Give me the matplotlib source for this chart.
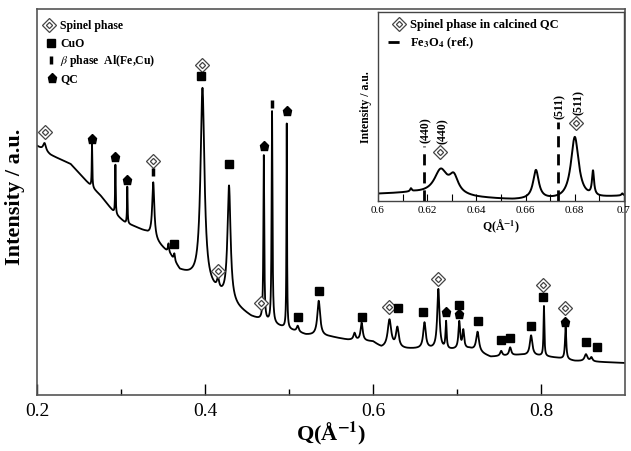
import numpy as np
import matplotlib
matplotlib.use("Agg")
import matplotlib.pyplot as plt

plt.rcParams['font.family'] = ['Liberation Serif', 'DejaVu Serif']
plt.rcParams['mathtext.fontset'] = 'stix'

# ---- main pattern: baseline knots and peaks ----
bg_q = [0.200, 0.216, 0.240, 0.264, 0.276, 0.293, 0.305, 0.317, 0.329, 0.335,
        0.359, 0.370, 0.384, 0.400, 0.420, 0.440, 0.455, 0.468, 0.490, 0.505,
        0.520, 0.550, 0.570, 0.600, 0.610, 0.640, 0.660, 0.690, 0.715, 0.740,
        0.775, 0.800, 0.820, 0.840, 0.870, 0.900]
bg_i = [249, 240, 231, 209, 199, 181, 172, 168, 163, 159,
        139, 124, 118, 110, 98, 86, 78, 74, 68, 64,
        60, 58, 55, 53, 47, 46, 46, 45, 46, 38,
        40, 39, 37, 34, 33, 32]

peak_q = [0.209, 0.2655, 0.2933, 0.3075, 0.3384, 0.3565, 0.3635, 0.397, 0.4155,
          0.4286, 0.4700, 0.4798, 0.4973, 0.5104, 0.5354, 0.578, 0.5865, 0.6196,
          0.6290, 0.6613, 0.6778, 0.6870, 0.7027, 0.7075, 0.7245, 0.7526, 0.7633,
          0.7882, 0.8035, 0.8293, 0.8535, 0.8600]
peak_h = [8, 43, 50, 37, 56, 9, 7, 195, 10,
          115, 165, 212, 205, 6, 35, 7, 18, 28,
          20, 26, 60, 27, 27, 18, 20, 5, 8,
          20, 50, 32, 7, 4]
peak_w = [0.002, 0.0004, 0.0004, 0.0004, 0.0015, 0.0008, 0.0008, 0.0028, 0.0015,
          0.0022, 0.0006, 0.0006, 0.0004, 0.0015, 0.002, 0.0015, 0.0015, 0.0025,
          0.002, 0.0018, 0.0016, 0.0008, 0.0012, 0.0012, 0.002, 0.0015, 0.0015,
          0.0018, 0.0006, 0.0009, 0.002, 0.0015]

# phase markers (position, height)
spinel_q = [0.209, 0.3384, 0.3967, 0.4158, 0.4666, 0.6196, 0.6778, 0.8023, 0.8285]
spinel_i = [263, 234, 330, 124, 92, 88, 116, 110, 87]
cuo_q = [0.3635, 0.3955, 0.4286, 0.5104, 0.5354, 0.5865, 0.6302, 0.6601, 0.7028,
         0.7253, 0.7526, 0.7633, 0.7882, 0.8025, 0.8535, 0.8665]
cuo_i = [151, 319, 231, 78, 104, 78, 87, 83, 90, 74, 55, 57, 69, 98, 53, 48]
qc_q = [0.266, 0.2933, 0.3075, 0.470, 0.4973, 0.6873, 0.7028, 0.8285]
qc_i = [256, 238, 215, 249, 284, 83, 81, 73]
beta_q = [0.3384, 0.4798]
beta_i = [223, 291]

main_ticks = [0.2, 0.4, 0.6, 0.8]
main_minor = [0.3, 0.5, 0.7]

# ---- inset: spinel phase in calcined QC ----
in_bg_q = [0.600, 0.615, 0.620, 0.640, 0.655, 0.675, 0.690, 0.700]
in_bg_i = [7, 8, 7, 3, 1, 1, 3, 5]
in_peak_q = [0.6134, 0.6255, 0.6308, 0.6642, 0.6800, 0.6874, 0.6993]
in_peak_h = [3, 24, 17, 29, 62, 24, 2]
in_peak_w = [0.0004, 0.0032, 0.0022, 0.0014, 0.0019, 0.0005, 0.0004]
in_spinel_q = [0.6252, 0.6805]
in_spinel_i = [49, 78]
ref_q = [0.6187, 0.6732]
ref_top = [55, 79]
hkl_labels = ['(440)', '(511)']
in_ticks = [0.6, 0.62, 0.64, 0.66, 0.68, 0.7]
in_tick_labels = ['0.6', '0.62', '0.64', '0.66', '0.68', '0.7']
in_minor = [0.61, 0.63, 0.65, 0.67, 0.69]


def pattern(q, bq, bi, pq, ph, pw):
    y = np.interp(q, bq, bi)
    for c, h, w in zip(pq, ph, pw):
        y = y + h / (1 + ((q - c) / w) ** 2)
    return y


def spinel_marker(ax, x, y, s=7, **kw):
    ax.plot(x, y, 'D', ms=s, mfc='white', mec='#444444', mew=0.9, ls='none', **kw)
    ax.plot(x, y, 'D', ms=s * 0.45, mfc='white', mec='#444444', mew=0.9, ls='none', **kw)


fig = plt.figure(figsize=(6.31, 4.52), dpi=100)
ax = fig.add_axes([37 / 631, 56 / 452, 588 / 631, 386 / 452])

q = np.linspace(0.2, 0.9, 6000)
ax.plot(q, pattern(q, bg_q, bg_i, peak_q, peak_h, peak_w), color='black', lw=1.3)

spinel_marker(ax, spinel_q, spinel_i)
ax.plot(cuo_q, cuo_i, 's', ms=5.5, color='black', ls='none')
ax.plot(qc_q, qc_i, 'p', ms=6.5, color='black', ls='none')
ax.plot(beta_q, beta_i, '|', ms=6, mew=2.5, color='black', ls='none')

ax.set_xlim(0.2, 0.9)
ax.set_ylim(0, 386)
ax.set_yticks([])
ax.set_xticks(main_ticks)
ax.set_xticks(main_minor, minor=True)
ax.set_xticklabels([f'{t:g}' for t in main_ticks])
ax.tick_params(axis='x', which='major', direction='in', length=8, width=1,
               labelsize=14, pad=5)
ax.tick_params(axis='x', which='minor', direction='in', length=4, width=1)
for s in ax.spines.values():
    s.set_color('#555555')
    s.set_linewidth(1.2)
ax.set_xlabel(r'Q(Å$^{\mathbf{-1}}$)', fontsize=16, fontweight='bold', labelpad=0)
ax.set_ylabel('Intensity / a.u.', fontsize=16, fontweight='bold')
ax.yaxis.set_label_coords(-0.02, 0.515)

# legend of the main panel
tr = ax.transAxes
lx, tx = 0.020, 0.039
leg_y = [0.9585, 0.912, 0.868, 0.821]
spinel_marker(ax, [lx], [leg_y[0]], s=7, transform=tr)
ax.plot([lx + 0.004], [leg_y[1]], 's', ms=5.5, color='black', transform=tr)
ax.plot([lx + 0.004], [leg_y[2]], '|', ms=6, mew=2.5, color='black', transform=tr)
ax.plot([lx + 0.005], [leg_y[3]], 'p', ms=6.5, color='black', transform=tr)
legend_txt = ['Spinel phase', 'CuO', r'$\it{\beta}$ phase  Al(Fe,Cu)', 'QC']
for yy, t in zip(leg_y, legend_txt):
    ax.text(tx, yy, t, transform=tr, fontsize=8.5, fontweight='bold', va='center')

# ---- inset ----
ins = fig.add_axes([378 / 631, 250 / 452, 246 / 631, 189 / 452])
qi = np.linspace(0.6, 0.7, 3000)
ins.plot(qi, pattern(qi, in_bg_q, in_bg_i, in_peak_q, in_peak_h, in_peak_w),
         color='black', lw=1.4)
for xr, yt in zip(ref_q, ref_top):
    ins.plot([xr, xr], [0, yt], color='black', lw=2, dashes=(4, 2.5))
spinel_marker(ins, in_spinel_q, in_spinel_i, s=7)
for xr, yt, lab in zip(ref_q, ref_top, hkl_labels):
    ins.text(xr + 0.0008, yt + 4, lab, rotation=90, fontsize=8.5,
             fontweight='bold', ha='center', va='bottom')
for xs, ys, lab in zip(in_spinel_q, in_spinel_i, hkl_labels):
    ins.text(xs + 0.0012, ys + 9, lab, rotation=90, fontsize=8.5,
             fontweight='bold', ha='center', va='bottom')
ins.set_xlim(0.6, 0.7)
ins.set_ylim(0, 189)
ins.set_yticks([])
ins.set_xticks(in_ticks)
ins.set_xticks(in_minor, minor=True)
ins.set_xticklabels(in_tick_labels)
ins.tick_params(axis='x', which='both', direction='in', length=5, width=0.8,
                labelsize=8, pad=3)
for s in ins.spines.values():
    s.set_color('#444444')
    s.set_linewidth(1.0)
ins.set_xlabel(r'Q(Å$^{\mathbf{-1}}$)', fontsize=8.5, fontweight='bold', labelpad=2)
ins.set_ylabel('Intensity / a.u.', fontsize=8.5, fontweight='bold', labelpad=4)

itr = ins.transAxes
spinel_marker(ins, [0.085], [0.935], s=7, transform=itr)
ins.plot([0.04, 0.10], [0.84, 0.84], color='black', lw=2, dashes=(4, 2),
         transform=itr)
ins.text(0.13, 0.935, 'Spinel phase in calcined QC', transform=itr, fontsize=9,
         fontweight='bold', va='center')
ins.text(0.13, 0.84, r'Fe$_\mathbf{3}$O$_\mathbf{4}$ (ref.)', transform=itr,
         fontsize=9, fontweight='bold', va='center')

fig.savefig('out.png', dpi=100)
